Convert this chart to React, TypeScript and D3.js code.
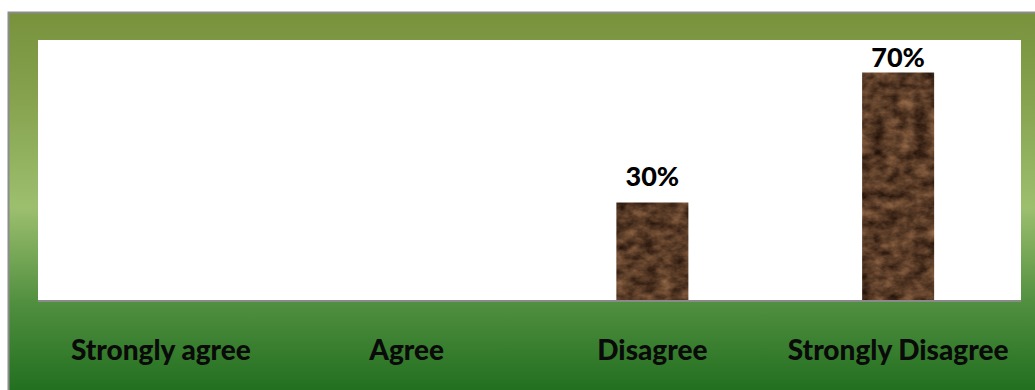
import React from "react";
import * as d3 from "d3";

const categories = ["Strongly agree", "Agree", "Disagree", "Strongly Disagree"];
const values = [null, null, 0.3, 0.7];
const labels = ["", "", "30%", "70%"];

const W = 1035;
const H = 390;
const plot = { left: 38, right: 1021, top: 40, bottom: 300 };

export default function App() {
  const x = d3
    .scaleBand<string>()
    .domain(categories)
    .range([plot.left, plot.right])
    .paddingInner(0.707)
    .paddingOuter(0.3535);
  const y = d3.scaleLinear().domain([0, 0.8]).range([plot.bottom, plot.top]);
  const font = "Lato, 'Open Sans', sans-serif";
  return (
    <svg
      width={W}
      height={H}
      style={{ position: "absolute", left: 0, top: 0, display: "block" }}
    >
      <defs>
        <linearGradient id="bg" x1="0" y1="0" x2="0" y2="1">
          <stop offset="0" stopColor="#78923c" />
          <stop offset="0.22" stopColor="#86a24e" />
          <stop offset="0.5" stopColor="#9cbf6e" />
          <stop offset="0.75" stopColor="#4f8e3e" />
          <stop offset="1" stopColor="#1c6b1c" />
        </linearGradient>
        <filter id="marble" x="0" y="0" width="100%" height="100%" colorInterpolationFilters="sRGB">
          <feTurbulence type="fractalNoise" baseFrequency="0.07 0.1" numOctaves="4" seed="11" result="n" />
          <feColorMatrix
            in="n"
            type="matrix"
            values="0.55 0 0 0 0.07  0.42 0 0 0 0.02  0.3 0 0 0 0.0  0 0 0 0 1"
            result="c"
          />
          <feComposite in="c" in2="SourceGraphic" operator="in" />
        </filter>
      </defs>
      <rect x={8.5} y={12.5} width={W} height={H} fill="url(#bg)" stroke="#8c8c8c" strokeWidth={2} />
      <rect x={plot.left} y={plot.top} width={plot.right - plot.left} height={plot.bottom - plot.top} fill="#ffffff" />
      {categories.map((c, i) =>
        values[i] == null ? null : (
          <g key={c}>
            <rect
              x={x(c)}
              y={y(values[i] as number)}
              width={x.bandwidth()}
              height={plot.bottom - y(values[i] as number)}
              fill="#5a3c26"
              filter="url(#marble)"
            />
            <text
              x={(x(c) as number) + x.bandwidth() / 2}
              y={Math.max(y(values[i] as number) - 17, plot.top + 27)}
              textAnchor="middle"
              fontFamily={font}
              fontWeight="900"
              fontSize={27}
              fill="#000"
            >
              {labels[i]}
            </text>
          </g>
        )
      )}
      <line x1={plot.left} x2={plot.right} y1={plot.bottom + 1} y2={plot.bottom + 1} stroke="#8a8a8a" strokeWidth={2} />
      {categories.map((c) => (
        <text
          key={c}
          x={(x(c) as number) + x.bandwidth() / 2}
          y={360}
          textAnchor="middle"
          fontFamily={font}
          fontWeight="900"
          fontSize={28}
          fill="#0a0a0a"
        >
          {c}
        </text>
      ))}
    </svg>
  );
}
